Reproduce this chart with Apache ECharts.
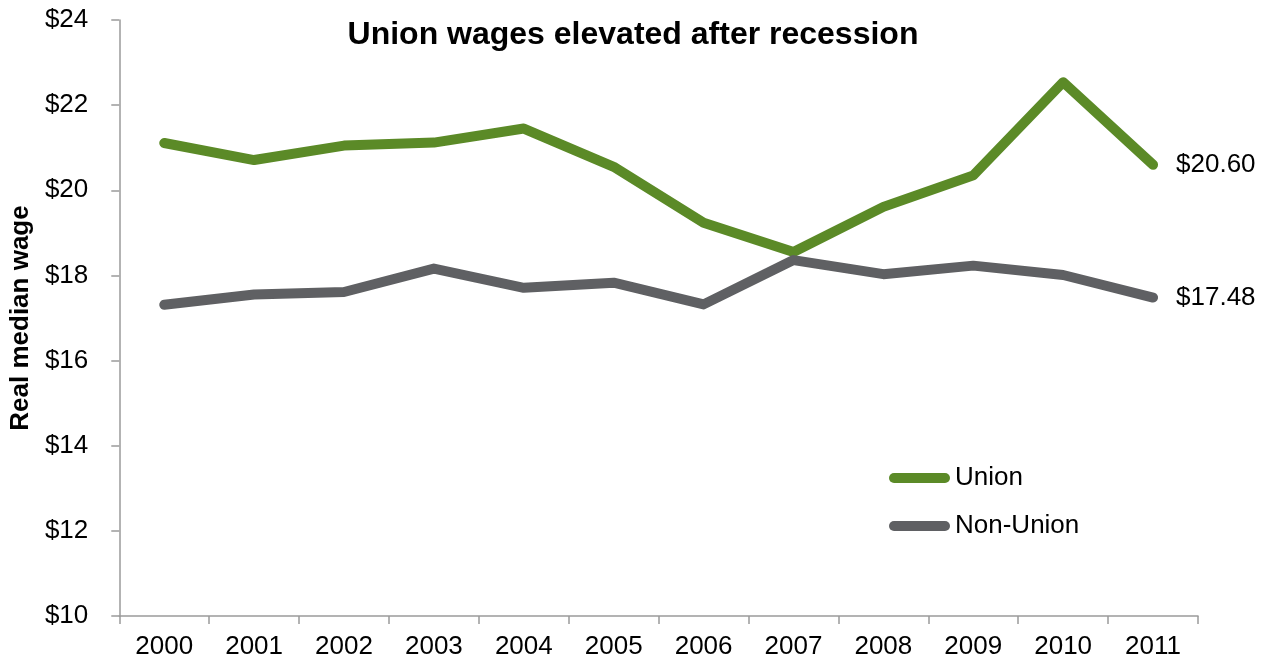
<!DOCTYPE html>
<html>
<head>
<meta charset="utf-8">
<script src="https://cdn.jsdelivr.net/npm/echarts@6/dist/echarts.min.js"></script>
<style>
  html, body { margin: 0; padding: 0; background: #ffffff; }
  #chart { width: 1268px; height: 662px; }
</style>
</head>
<body>
<div id="chart"></div>
<script>
// Real median hourly wage, 2000-2011
const years = ['2000', '2001', '2002', '2003', '2004', '2005', '2006', '2007', '2008', '2009', '2010', '2011'];
const unionWage = [21.11, 20.71, 21.05, 21.12, 21.45, 20.55, 19.24, 18.55, 19.61, 20.35, 22.54, 20.60];
const nonUnionWage = [17.31, 17.55, 17.61, 18.16, 17.71, 17.83, 17.32, 18.36, 18.03, 18.23, 18.01, 17.48];
const yTicks = { min: 10, max: 24, interval: 2 };

const FONT = '"Liberation Sans", Arial, sans-serif';
const GREEN = '#5b8a27';
const GRAY = '#5f6063';
const AXIS = '#9a9a9a';
const pill = 'path://M5,0 H56 A5,5 0 0 1 56,10 H5 A5,5 0 0 1 5,0 Z';

const chart = echarts.init(document.getElementById('chart'), null, { renderer: 'canvas' });

function lineSeries(name, data, color) {
  return {
    name: name,
    type: 'line',
    data: data,
    symbol: 'none',
    lineStyle: { color: color, width: 10, cap: 'round', join: 'round' },
    itemStyle: { color: color },
    endLabel: {
      show: true,
      distance: 23,
      color: '#000',
      fontFamily: FONT,
      fontSize: 26,
      formatter: p => '$' + p.value.toFixed(2)
    },
    emphasis: { disabled: true }
  };
}

chart.setOption({
  animation: false,
  backgroundColor: '#ffffff',
  title: {
    text: 'Union wages elevated after recession',
    left: 628,
    textAlign: 'center',
    top: 14,
    textStyle: { fontFamily: FONT, fontSize: 32, fontWeight: 'bold', color: '#000' }
  },
  legend: {
    orient: 'vertical',
    left: 889,
    top: 465,
    padding: 0,
    itemWidth: 61,
    itemHeight: 10,
    itemGap: 22,
    itemTextGap: 2,
    icon: pill,
    textStyle: { fontFamily: FONT, fontSize: 26, color: '#000' },
    data: ['Union', 'Non-Union']
  },
  grid: { left: 119, right: 70, top: 20, bottom: 46, containLabel: false },
  xAxis: {
    type: 'category',
    data: years,
    boundaryGap: true,
    axisLine: { lineStyle: { color: AXIS, width: 1.5 } },
    axisTick: { show: true, inside: false, length: 8, lineStyle: { color: AXIS, width: 1.5 } },
    axisLabel: { margin: 18, color: '#000', fontFamily: FONT, fontSize: 26 },
    splitLine: { show: false }
  },
  yAxis: {
    type: 'value',
    min: yTicks.min,
    max: yTicks.max,
    interval: yTicks.interval,
    name: 'Real median wage',
    nameLocation: 'middle',
    nameGap: 81,
    nameRotate: 90,
    nameTextStyle: { fontFamily: FONT, fontSize: 26, fontWeight: 'bold', color: '#000' },
    axisLine: { show: true, lineStyle: { color: AXIS, width: 1.5 } },
    axisTick: { show: true, inside: false, length: 8, lineStyle: { color: AXIS, width: 1.5 } },
    axisLabel: { margin: 31, color: '#000', fontFamily: FONT, fontSize: 26, formatter: v => '$' + v },
    splitLine: { show: false }
  },
  series: [
    lineSeries('Union', unionWage, GREEN),
    lineSeries('Non-Union', nonUnionWage, GRAY)
  ]
});
</script>
</body>
</html>
